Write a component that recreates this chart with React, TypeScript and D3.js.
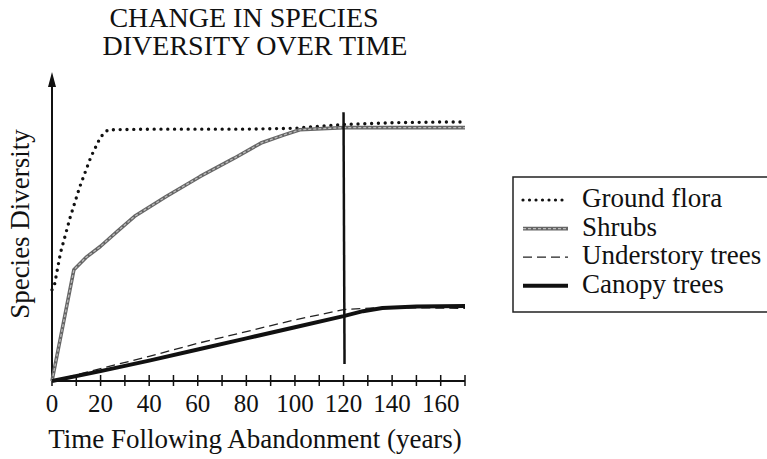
import * as React from 'react';
import * as d3 from 'd3';

// values, y in arbitrary units (0 = axis, 100 = arrow tip)
const groundYears = [0, 1, 3.5, 7.5, 11.5, 16, 20, 23, 40, 60, 80, 100, 120, 140, 160, 170];
const groundVals = [29.5, 31, 41.5, 53, 63, 72.5, 79, 81.3, 81.5, 81.5, 81.5, 81.8, 83, 83.6, 83.8, 83.8];
const shrubYears = [0, 9, 14, 20, 27, 34, 47, 61, 75, 86, 95, 102, 120, 140, 170];
const shrubVals = [0, 36, 40, 43.6, 48.5, 53.3, 59.7, 66.2, 72.1, 77, 79.5, 81.3, 82, 82, 82];
const underYears = [0, 20, 40, 60, 80, 100, 120, 134, 150, 170];
const underVals = [0, 4, 8, 12.2, 16, 19.8, 23.1, 23.7, 23.7, 23.5];
const canopyYears = [0, 20, 40, 60, 80, 100, 120, 128, 136, 150, 170];
const canopyVals = [0, 3.2, 6.6, 10.2, 13.8, 17.4, 21, 22.6, 23.6, 24.1, 24.3];
const tickYears = d3.range(0, 171, 10);
const labelYears = d3.range(0, 161, 20);
const legendNames = ['Ground flora', 'Shrubs', 'Understory trees', 'Canopy trees'];
const markYear = 120;
const markRange = [87, 5.5];

const W = 767, H = 459;
const font = '"Liberation Serif", "Times New Roman", serif';

export default function App() {
  const x = d3.scaleLinear().domain([0, 170]).range([52, 465]);
  const y = d3.scaleLinear().domain([0, 100]).range([381, 72]);
  const line = d3.line<[number, number]>().x(d => x(d[0])).y(d => y(d[1])).curve(d3.curveLinear);
  const path = (xs: number[], ys: number[]) => line(xs.map((v, i) => [v, ys[i]]))!;

  const ground = path(groundYears, groundVals);
  const shrubs = path(shrubYears, shrubVals);
  const under = path(underYears, underVals);
  const canopy = path(canopyYears, canopyVals);

  // legend geometry
  const lx = 513, ly = 177, rowY = (i: number) => 207 + i * 28.6;

  const sym = (i: number, x1: number, x2: number, yy: number) => {
    const d = `M${x1},${yy}L${x2},${yy}`;
    if (i === 0) return <path d={d} stroke="#111" strokeWidth={3.2} strokeLinecap="round" strokeDasharray="0,6.5" fill="none" />;
    if (i === 1) return <g><path d={d} stroke="#666" strokeWidth={3.6} fill="none" /><path d={d} stroke="#bbb" strokeWidth={1.3} strokeDasharray="3,2" fill="none" /></g>;
    if (i === 2) return <path d={d} stroke="#222" strokeWidth={1.3} strokeDasharray="9,5" fill="none" />;
    return <path d={d} stroke="#111" strokeWidth={4} fill="none" />;
  };

  return (
    <svg width={W} height={H} style={{ position: 'absolute', left: 0, top: 0, background: '#fff' }} fontFamily={font}>
      <rect width={W} height={H} fill="#fff" />
      <text x={244} y={27} fontSize={28} textAnchor="middle" fill="#111">CHANGE IN SPECIES</text>
      <text x={255} y={55} fontSize={28} textAnchor="middle" fill="#111">DIVERSITY OVER TIME</text>

      {/* y axis with arrow */}
      <line x1={x(0)} x2={x(0)} y1={y(0)} y2={y(100) + 4} stroke="#111" strokeWidth={2} />
      <path d={`M${x(0)},${y(100)}L${x(0) - 4},${y(100) + 15}L${x(0) + 4},${y(100) + 15}Z`} fill="#111" />
      <text transform={`translate(29,224) rotate(-90)`} fontSize={27} textAnchor="middle" fill="#111">Species Diversity</text>

      {/* x axis */}
      <line x1={x(0)} x2={x(170)} y1={y(0)} y2={y(0)} stroke="#111" strokeWidth={2} />
      {tickYears.map(t => <line key={t} x1={x(t)} x2={x(t)} y1={y(0) - 6} y2={y(0) + 5} stroke="#111" strokeWidth={1.5} />)}
      {labelYears.map(t => <text key={t} x={x(t)} y={412} fontSize={25} textAnchor="middle" fill="#111">{t}</text>)}
      <text x={255} y={448} fontSize={27} textAnchor="middle" fill="#111">Time Following Abandonment (years)</text>

      {/* series */}
      <path d={ground} stroke="#111" strokeWidth={3.4} strokeLinecap="round" strokeDasharray="0,6.8" fill="none" />
      <path d={shrubs} stroke="#666" strokeWidth={3.6} strokeLinejoin="round" fill="none" />
      <path d={shrubs} stroke="#bbb" strokeWidth={1.3} strokeDasharray="3,2" fill="none" />
      <path d={under} stroke="#222" strokeWidth={1.3} strokeDasharray="9,5" fill="none" />
      <path d={canopy} stroke="#111" strokeWidth={4} strokeLinejoin="round" fill="none" />

      {/* hand-drawn marker line */}
      <line x1={x(markYear)} x2={x(markYear) + 1} y1={y(markRange[0])} y2={y(markRange[1])} stroke="#111" strokeWidth={2.5} />

      {/* legend */}
      <path d={`M${W + 5},${ly}L${lx},${ly}L${lx},312L${W + 5},312`} stroke="#222" strokeWidth={1.5} fill="none" />
      {legendNames.map((n, i) => (
        <g key={n}>
          {sym(i, 523, 568, rowY(i) - 7)}
          <text x={582} y={rowY(i)} fontSize={27} fill="#111">{n}</text>
        </g>
      ))}
    </svg>
  );
}
